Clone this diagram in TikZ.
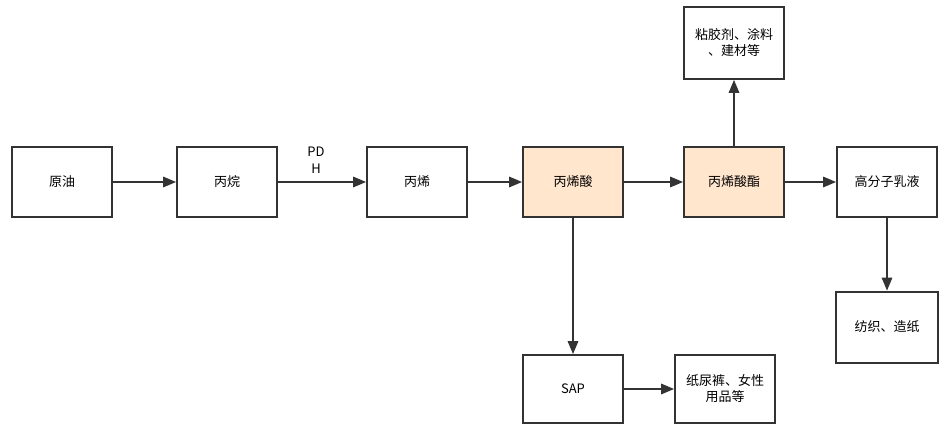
\documentclass[tikz,border=0pt]{standalone}
\usepackage{fontspec}
\setmainfont{Noto Sans CJK SC}
\usetikzlibrary{arrows}
\definecolor{peach}{HTML}{FFE6CC}
\definecolor{ink}{HTML}{333333}
\tikzset{
  box/.style={draw=ink, line width=2pt, minimum width=100pt, minimum height=70pt,
    align=center, font=\fontsize{13}{16}\selectfont, inner sep=1pt},
  flow/.style={draw=ink, line width=2pt, -triangle 45}
}
\begin{document}
\begin{tikzpicture}[x=1pt, y=-1pt]
\useasboundingbox (0,0) rectangle (940,425);
\node[box] (crude) at (62,182) {原油};
\node[box] (propane) at (227,182) {丙烷};
\node[box] (propene) at (417,182) {丙烯};
\node[box, fill=peach] (acid) at (573,182) {丙烯酸};
\node[box, fill=peach] (ester) at (734,182) {丙烯酸酯};
\node[box] (latex) at (887,182) {高分子乳液};
\node[box, minimum height=72pt] (glue) at (734,43) {粘胶剂、涂料\\、建材等};
\node[box, minimum height=68pt] (sap) at (573,389) {SAP};
\node[box, minimum height=68pt] (diaper) at (725,389) {纸尿裤、女性\\用品等};
\node[box, minimum width=102pt, minimum height=71pt] (textile) at (887,327) {纺织、造纸};
\node[font=\fontsize{13}{17}\selectfont, align=center] (pdh) at (316,160) {PD\\H};
\draw[flow] (crude) -- (propane);
\draw[flow] (propane) -- (propene);
\draw[flow] (propene) -- (acid);
\draw[flow] (acid) -- (ester);
\draw[flow] (ester) -- (latex);
\draw[flow] (ester) -- (glue);
\draw[flow] (acid) -- (sap);
\draw[flow] (sap) -- (diaper);
\draw[flow] (latex) -- (textile);
\end{tikzpicture}
\end{document}
